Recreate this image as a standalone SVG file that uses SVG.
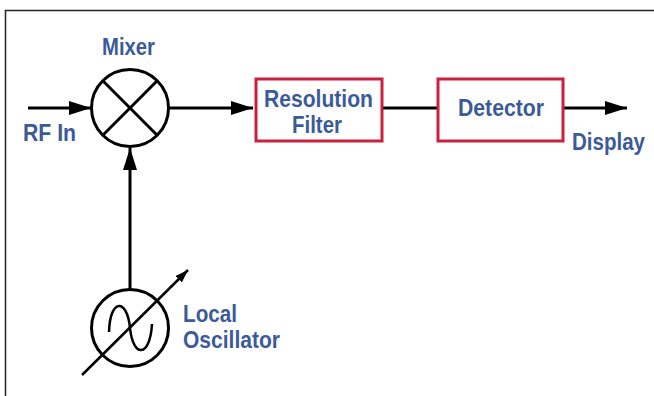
<svg xmlns="http://www.w3.org/2000/svg" width="654" height="396" viewBox="0 0 654 396">
<defs>
<style>
.lbl{font-family:"Liberation Sans",Arial,sans-serif;font-weight:bold;font-size:23px;fill:#3b5b98}
.box{fill:#fff;stroke:#cc1f3c;stroke-width:3}
.wire{fill:none;stroke:#000;stroke-width:3}
.sym{fill:none;stroke:#000;stroke-width:3}
</style>
<marker id="ah" viewBox="0 0 22 14" refX="22" refY="7" markerWidth="22" markerHeight="14" markerUnits="userSpaceOnUse" orient="auto">
<path d="M0,0 L22,7 L0,14 Z" fill="#000"/>
</marker>
<marker id="ahs" viewBox="0 0 13 9" refX="13" refY="4.5" markerWidth="13" markerHeight="9" markerUnits="userSpaceOnUse" orient="auto">
<path d="M0,0 L13,4.5 L0,9 Z" fill="#000"/>
</marker>
</defs>
<rect width="654" height="396" fill="#fff"/>
<path d="M5.5,396 V10.5 H654" fill="none" stroke="#222" stroke-width="1.5"/>
<g id="connectors">
<line class="wire" x1="28" y1="108" x2="91" y2="108" marker-end="url(#ah)"/>
<line class="wire" x1="169" y1="108" x2="253" y2="108" marker-end="url(#ah)"/>
<line class="wire" x1="383" y1="108" x2="437" y2="108"/>
<line class="wire" x1="564" y1="108" x2="627" y2="108" marker-end="url(#ah)"/>
<line class="wire" x1="130" y1="289" x2="130" y2="148" marker-end="url(#ah)"/>
</g>
<g id="mixer">
<circle class="sym" cx="130" cy="108" r="38.5"/>
<line class="sym" x1="102.8" y1="80.8" x2="157.2" y2="135.2"/>
<line class="sym" x1="157.2" y1="80.8" x2="102.8" y2="135.2"/>
<text class="lbl" x="128.5" y="55" text-anchor="middle" textLength="53" lengthAdjust="spacingAndGlyphs">Mixer</text>
</g>
<g id="rf-in">
<text class="lbl" x="23" y="141" textLength="53" lengthAdjust="spacingAndGlyphs">RF In</text>
</g>
<g id="resolution-filter">
<rect class="box" x="256" y="79" width="126" height="62"/>
<text class="lbl" x="318.5" y="107" text-anchor="middle" textLength="109" lengthAdjust="spacingAndGlyphs">Resolution</text>
<text class="lbl" x="317" y="132.5" text-anchor="middle" textLength="50" lengthAdjust="spacingAndGlyphs">Filter</text>
</g>
<g id="detector">
<rect class="box" x="438" y="79" width="125" height="62"/>
<text class="lbl" x="501" y="116" text-anchor="middle" textLength="86" lengthAdjust="spacingAndGlyphs">Detector</text>
</g>
<g id="display">
<text class="lbl" x="572" y="150" textLength="73" lengthAdjust="spacingAndGlyphs">Display</text>
</g>
<g id="local-oscillator">
<circle class="sym" cx="130" cy="328" r="38.5"/>
<path d="M109,332 C110,298 127,298 130,328 C133,358 150,358 152,324" fill="none" stroke="#000" stroke-width="2.5"/>
<line x1="82" y1="375" x2="188" y2="270" stroke="#000" stroke-width="2.5" marker-end="url(#ahs)"/>
<text class="lbl" x="183" y="322" textLength="54" lengthAdjust="spacingAndGlyphs">Local</text>
<text class="lbl" x="183" y="347.5" textLength="97" lengthAdjust="spacingAndGlyphs">Oscillator</text>
</g>
</svg>
